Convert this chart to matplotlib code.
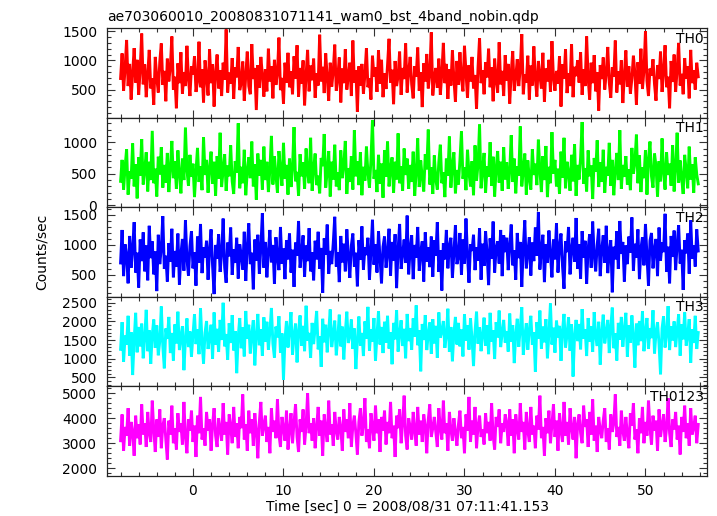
import numpy as np
import matplotlib
matplotlib.use("Agg")
import matplotlib.pyplot as plt
from matplotlib.ticker import MultipleLocator

plt.rcParams['font.family'] = ['DejaVu Sans']
plt.rcParams['path.simplify'] = False

title = "ae703060010_20080831071141_wam0_bst_4band_nobin.qdp"
xlabel = "Time [sec] 0 = 2008/08/31 07:11:41.153"
ylabel = "Counts/sec"
band_names = ["TH0", "TH1", "TH2", "TH3", "TH0123"]
band_colors = ["#ff0000", "#00ff00", "#0000ff", "#00ffff", "#ff00ff"]

t_start = -8.0
t_step = 1.0 / 6.0

th0 = [
 690, 1120, 480, 870, 1350, 560, 940, 330, 780, 1210, 620, 1010, 410, 850, 1460, 590,
 930, 370, 760, 1180, 520, 690, 240, 1060, 700, 450, 980, 1290, 580, 820, 300, 1030,
 640, 890, 1410, 500, 720, 180, 950, 610, 1140, 430, 800, 560, 1250, 680, 390, 900,
 760, 1070, 460, 640, 1320, 540, 850, 280, 1000, 720, 400, 1190, 610, 930, 210, 780,
 1100, 520, 830, 390, 960, 670, 1530, 450, 790, 600, 1040, 340, 880, 710, 1230, 490,
 620, 980, 310, 740, 1150, 560, 420, 1280, 680, 870, 150, 920, 530, 1060, 760, 380,
 850, 470, 1200, 640, 900, 350, 1010, 580, 780, 1390, 490, 700, 260, 960, 620, 1130,
 540, 810, 420, 1070, 690, 1260, 380, 870, 600, 1000, 230, 750, 1180, 470, 910, 660,
 1030, 360, 780, 570, 1440, 640, 890, 440, 1120, 710, 310, 960, 550, 820, 1270, 480,
 700, 1050, 280, 860, 610, 1190, 500, 740, 960, 390, 1340, 620, 830, 120, 900, 570,
 940, 430, 760, 1210, 540, 690, 330, 1080, 720, 880, 460, 1170, 600, 1010, 370, 780,
 510, 920, 1370, 620, 840, 250, 990, 560, 730, 1150, 410, 870, 680, 1290, 450, 810,
 1060, 590, 350, 900, 720, 1220, 480, 800, 200, 950, 640, 1110, 520, 760, 1480, 400,
 700, 870, 530, 1030, 410, 780, 1300, 610, 940, 340, 850, 570, 1170, 680, 290, 990,
 580, 1140, 690, 470, 1250, 800, 360, 920, 640, 1060, 520, 750, 170, 880, 1380, 610,
 830, 420, 970, 710, 1200, 540, 880, 300, 1030, 660, 450, 1310, 590, 820, 390, 1090,
 650, 940, 260, 790, 1160, 480, 710, 1020, 560, 870, 1450, 420, 760, 620, 1080, 330,
 910, 570, 1240, 680, 380, 990, 740, 520, 1130, 290, 860, 640, 1010, 460, 1330, 700,
 480, 820, 600, 1070, 210, 930, 690, 1190, 440, 780, 560, 1280, 370, 890, 730, 1000,
 620, 1140, 410, 850, 560, 1410, 700, 330, 960, 610, 1090, 470, 800, 140, 920, 680,
 1050, 500, 780, 1230, 620, 360, 880, 720, 1340, 450, 810, 590, 1000, 270, 740, 1170,
 550, 900, 430, 690, 1080, 780, 240, 970, 600, 1200, 510, 830, 1500, 650, 390, 860,
 740, 1020, 590, 310, 920, 680, 1150, 460, 810, 1260, 540, 720, 180, 990, 630, 1100,
 460, 850, 1300, 570, 770, 420, 1040, 690, 900, 350, 1180, 610, 830, 500, 960, 720,
]

th1 = [
 380, 720, 250, 610, 890, 170, 540, 420, 980, 300, 650, 110, 760, 470, 1050, 330,
 560, 840, 220, 690, 400, 1180, 350, 580, 140, 770, 490, 920, 280, 640, 360, 830,
 210, 590, 1020, 430, 700, 260, 870, 510, 190, 740, 400, 1230, 560, 310, 800, 450,
 660, 130, 540, 910, 370, 620, 240, 1080, 480, 720, 200, 590, 850, 340, 690, 150,
 780, 420, 1150, 290, 560, 810, 230, 630, 460, 950, 380, 180, 700, 520, 1300, 270,
 610, 350, 880, 160, 540, 760, 430, 1010, 300, 650, 90, 820, 470, 720, 250, 930,
 400, 690, 210, 570, 1100, 330, 780, 480, 200, 860, 550, 310, 990, 420, 640, 170,
 740, 290, 600, 1240, 380, 530, 150, 810, 460, 680, 260, 900, 510, 350, 1070, 230,
 580, 820, 320, 470, 190, 750, 620, 1130, 280, 540, 860, 140, 690, 410, 960, 300,
 520, 240, 870, 430, 650, 1020, 180, 590, 370, 780, 250, 1190, 460, 700, 320, 840,
 160, 610, 390, 930, 510, 280, 720, 1350, 420, 560, 210, 800, 340, 660, 120, 870,
 450, 1010, 300, 580, 760, 200, 690, 410, 1140, 350, 620, 230, 900, 480, 740, 260,
 640, 370, 850, 150, 530, 1060, 290, 710, 440, 220, 810, 570, 1200, 330, 600, 180,
 790, 410, 250, 680, 960, 350, 520, 130, 740, 470, 1090, 280, 630, 840, 190, 560,
 330, 720, 1170, 420, 600, 240, 880, 510, 300, 700, 160, 950, 390, 650, 1280, 270,
 550, 830, 200, 620, 450, 1000, 310, 770, 140, 580, 860, 360, 690, 230, 920, 410,
 680, 260, 540, 1110, 370, 740, 190, 620, 470, 1250, 300, 560, 820, 170, 710, 430,
 250, 890, 480, 660, 320, 1040, 560, 210, 780, 400, 940, 130, 610, 350, 1160, 500,
 720, 300, 580, 180, 850, 440, 1070, 270, 690, 520, 230, 800, 380, 970, 150, 640,
 410, 760, 1320, 340, 590, 220, 870, 460, 630, 100, 750, 530, 1030, 290, 680, 370,
 880, 200, 610, 470, 990, 310, 720, 160, 560, 830, 400, 1190, 260, 640, 450, 780,
 330, 570, 240, 910, 500, 680, 1120, 350, 790, 210, 600, 430, 870, 170, 730, 1010,
 460, 280, 820, 620, 140, 700, 380, 1060, 530, 250, 840, 480, 660, 310, 950, 220,
 590, 1150, 360, 710, 430, 180, 800, 550, 270, 930, 410, 650, 200, 760, 490, 340,
]

th2 = [
 700, 1250, 480, 1010, 830, 360, 1150, 620, 940, 1380, 540, 870, 290, 1090, 730, 1210,
 560, 990, 410, 1320, 780, 1060, 510, 890, 230, 1170, 680, 950, 1480, 600, 820, 390,
 1030, 720, 1270, 460, 900, 640, 1190, 340, 850, 1100, 570, 1410, 760, 490, 980, 1230,
 610, 880, 320, 1140, 700, 1350, 530, 960, 790, 1070, 420, 920, 1260, 650, 180, 1000,
 770, 1180, 550, 860, 1440, 630, 370, 1040, 810, 1290, 500, 930, 700, 1120, 440, 1010,
 830, 590, 1220, 400, 970, 1360, 680, 870, 260, 1090, 740, 1170, 520, 950, 1530, 620,
 1050, 460, 890, 1250, 710, 1000, 350, 1130, 800, 580, 1300, 690, 940, 430, 1080, 760,
 1190, 540, 920, 300, 1040, 820, 1400, 620, 870, 1160, 470, 990, 730, 1280, 560, 880,
 410, 1070, 760, 1220, 600, 950, 200, 1110, 840, 1340, 520, 900, 680, 1030, 1470, 640,
 880, 380, 1150, 710, 1020, 560, 1260, 820, 450, 990, 1190, 640, 870, 310, 1080, 750,
 1310, 590, 960, 830, 1120, 420, 890, 1420, 670, 1010, 540, 1230, 780, 360, 970, 1140,
 620, 860, 1270, 490, 1050, 740, 1180, 280, 920, 1350, 600, 850, 1090, 700, 1490, 510,
 940, 1160, 430, 1000, 790, 1300, 570, 880, 1060, 390, 1210, 720, 960, 630, 1140, 470,
 1080, 820, 1380, 550, 910, 240, 1030, 760, 1250, 610, 980, 1120, 450, 870, 1330, 680,
 800, 1200, 500, 1090, 690, 1440, 830, 370, 1010, 900, 1170, 580, 960, 740, 1280, 420,
 1020, 650, 1230, 860, 330, 1110, 770, 1390, 540, 940, 1060, 690, 1250, 480, 1160, 880,
 1120, 580, 990, 1340, 660, 910, 420, 1200, 780, 1050, 300, 960, 1410, 610, 870, 1130,
 490, 1040, 730, 1290, 820, 1550, 590, 930, 1170, 380, 1010, 700, 1240, 850, 460, 1090,
 760, 1360, 540, 980, 1190, 650, 270, 1060, 880, 1300, 510, 940, 1120, 720, 1450, 600,
 1010, 440, 1230, 790, 1070, 350, 940, 1180, 620, 1390, 830, 560, 1000, 1270, 480, 920,
 1160, 700, 1320, 530, 890, 1080, 210, 970, 760, 1230, 600, 1400, 850, 1050, 390, 990,
 680, 1140, 870, 1460, 570, 1020, 790, 1260, 430, 940, 1130, 660, 1350, 820, 320, 1070,
 1200, 610, 930, 1100, 480, 1290, 740, 1040, 880, 1520, 550, 970, 360, 1150, 800, 1240,
 580, 1010, 1330, 690, 920, 250, 1080, 860, 1190, 520, 1410, 770, 990, 640, 1260, 900,
]

th3 = [
 1250, 1980, 920, 1620, 1380, 2150, 1080, 1710, 560, 1490, 2230, 1170, 1850, 1330, 1940, 1010,
 1560, 2310, 1200, 1760, 860, 1640, 2050, 1290, 1890, 1090, 1470, 2400, 1340, 740, 1810, 1530,
 2120, 1150, 1690, 950, 1920, 1410, 2260, 1230, 1580, 1870, 690, 1520, 2080, 1310, 1730, 1050,
 1640, 2190, 1390, 1790, 1120, 2350, 1450, 870, 1700, 2010, 1260, 1560, 1910, 1000, 2240, 1370,
 1800, 1180, 2040, 1500, 2500, 1330, 1660, 970, 1950, 1420, 2170, 1220, 1740, 610, 1590, 2090,
 1280, 1840, 1060, 2280, 1530, 1910, 1140, 1670, 2030, 820, 1620, 2200, 1360, 1790, 1080, 2110,
 1460, 1990, 1240, 1730, 2360, 1400, 1030, 1860, 1570, 2140, 1160, 1680, 440, 1520, 2010, 1300,
 1770, 2250, 1110, 1620, 1940, 900, 1720, 2160, 1350, 1880, 1200, 2420, 1480, 1690, 1020, 1960,
 1390, 1830, 2280, 1250, 1600, 780, 2070, 1440, 1910, 1170, 1750, 2320, 1310, 1640, 2020, 1090,
 1550, 2180, 1330, 1860, 980, 1700, 2260, 1420, 1610, 2050, 1260, 1810, 720, 1490, 2130, 1350,
 1690, 1070, 2000, 1540, 2390, 1210, 1780, 1460, 2090, 940, 1630, 2270, 1380, 1850, 1150, 1990,
 1430, 2150, 1270, 1710, 850, 1960, 1520, 2300, 1190, 1670, 2030, 1340, 1800, 1010, 2200, 1470,
 1820, 1240, 2080, 1590, 2430, 1360, 1760, 660, 1930, 1500, 2170, 1230, 1650, 1970, 1130, 2060,
 1410, 1880, 1020, 2240, 1560, 1740, 2010, 1290, 1620, 2340, 1180, 1850, 930, 1700, 2120, 1380,
 1960, 1330, 1780, 1060, 2190, 1480, 1900, 1240, 2080, 1550, 800, 1720, 2260, 1400, 1840, 1200,
 1630, 2100, 1350, 1890, 1120, 2230, 1460, 1760, 990, 1980, 1570, 2290, 1310, 1690, 2040, 1430,
 1740, 1190, 2210, 1460, 1900, 880, 1650, 2070, 1320, 1820, 2380, 1100, 1590, 1950, 1240, 1780,
 2150, 1370, 1710, 650, 1980, 1530, 2290, 1270, 1860, 1440, 2060, 1010, 1690, 2480, 1380, 1830,
 1160, 2020, 1570, 1880, 940, 1760, 2200, 1300, 1640, 2110, 1210, 1920, 520, 1620, 2040, 1470,
 1930, 1250, 2330, 1540, 1790, 1070, 2090, 1450, 1870, 1180, 2250, 1600, 1340, 1990, 840, 1720,
 2180, 1410, 1700, 2040, 1150, 1850, 2370, 1280, 1680, 950, 1960, 1510, 2120, 1320, 1770, 2230,
 1050, 1890, 1430, 2160, 1600, 760, 1940, 1360, 2010, 1470, 2270, 1200, 1730, 2090, 1260, 1820,
 1550, 2300, 1140, 1700, 1980, 1390, 580, 1810, 2140, 1300, 1660, 2410, 1230, 1870, 1490, 2000,
 1310, 1760, 2190, 1080, 1920, 1520, 2240, 1350, 1640, 2060, 890, 1790, 1420, 2150, 1260, 1700,
]

th0123 = [
 3100, 4150, 2700, 3650, 3300, 4400, 2900, 3850, 3450, 2500, 4100, 3200, 3750, 2950, 4550, 3350,
 3800, 2850, 4250, 3400, 3050, 4700, 3550, 2650, 3950, 3250, 4350, 2800, 3700, 4000, 3150, 2350,
 3900, 3350, 4500, 3000, 3600, 2750, 4200, 3450, 3800, 2950, 4650, 3250, 2600, 3950, 3500, 4300,
 3050, 3700, 2450, 4100, 3400, 4850, 3150, 3600, 2900, 4250, 3500, 3950, 2700, 3750, 4400, 3300,
 2850, 4000, 3550, 3100, 4600, 3350, 3850, 2550, 4150, 3650, 3000, 4450, 3250, 3800, 2800, 4050,
 3600, 4950, 3150, 3750, 2700, 4300, 3400, 3950, 2900, 4200, 3500, 2400, 3850, 4650, 3300, 3700,
 4100, 3050, 3650, 2600, 4400, 3450, 3900, 3200, 4750, 3350, 2850, 4050, 3600, 3100, 4300, 2750,
 3550, 4200, 3000, 3850, 4550, 3250, 2650, 3950, 3450, 4350, 2950, 3700, 5000, 3400, 3800, 3100,
 4000, 2800, 3650, 4450, 3300, 3900, 2500, 4150, 3550, 3050, 4700, 3350, 3750, 2900, 4250, 3500,
 3150, 4050, 3600, 2700, 4350, 3450, 3950, 3200, 4600, 2850, 3700, 4100, 3400, 2550, 3850, 4400,
 3300, 3750, 4800, 3050, 3550, 2800, 4200, 3650, 3100, 4500, 3400, 3950, 2650, 4050, 3500, 4300,
 2950, 3850, 3400, 4650, 3200, 3700, 2450, 4100, 3600, 4350, 3000, 3800, 4900, 3300, 2750, 4000,
 3650, 3150, 4250, 3500, 2900, 4450, 3350, 3900, 3050, 4150, 3700, 2600, 3950, 4550, 3250, 3600,
 4050, 3450, 2850, 4400, 3600, 3150, 4700, 3400, 3800, 2700, 4250, 3550, 3100, 4000, 3450, 2900,
 3750, 4300, 3200, 3650, 2600, 4150, 3500, 4850, 3050, 3900, 3350, 4450, 2800, 3700, 4100, 3250,
 3550, 2950, 4200, 3400, 3850, 3100, 4600, 3300, 2750, 4050, 3650, 4350, 3000, 3800, 3450, 4150,
 3800, 2900, 4350, 3300, 3950, 2600, 4150, 3600, 3150, 4600, 3450, 3850, 2750, 4250, 3500, 3050,
 4450, 3350, 3700, 2800, 4100, 3550, 4900, 3200, 3650, 2500, 4000, 3400, 4300, 3000, 3750, 4550,
 3250, 3900, 2700, 4200, 3500, 3050, 4650, 3300, 3850, 2950, 4400, 3600, 3150, 4050, 2400, 3750,
 4150, 3400, 3000, 4500, 3650, 3950, 2850, 4250, 3350, 4750, 3100, 3700, 2650, 4050, 3550, 3200,
 3900, 4400, 3050, 3600, 2750, 4150, 3450, 3800, 4950, 3250, 3650, 2900, 4300, 3500, 3100, 4050,
 3350, 2800, 4200, 3700, 4600, 3150, 3550, 2600, 4000, 3400, 4450, 3000, 3850, 3300, 4700, 3600,
 2950, 4100, 3500, 3900, 2700, 4350, 3250, 3750, 4150, 3050, 3600, 4800, 3400, 2850, 3950, 3550,
 4250, 3150, 3700, 2550, 4050, 3450, 4500, 3200, 3800, 2900, 4400, 3350, 3650, 4100, 3000, 3750,
]

series = [th0, th1, th2, th3, th0123]
ylims = [(20, 1555), (-30, 1390), (135, 1630), (255, 2660), (1690, 5270)]
ymajor = [500, 500, 500, 500, 1000]
yminor = [100, 100, 100, 100, 200]

W, H = 717, 516
fig = plt.figure(figsize=(W / 100, H / 100), dpi=100)
left_px, right_px = 107, 707
top_px, bot_px = 28, 476
ph = (bot_px - top_px) / 5.0
FS = 10

axes = []
for i in range(5):
    y0 = top_px + i * ph
    ax = fig.add_axes([left_px / W, 1 - (y0 + ph) / H, (right_px - left_px) / W, ph / H])
    axes.append(ax)

for i, ax in enumerate(axes):
    y = np.asarray(series[i], dtype=float)
    t = t_start + t_step * np.arange(len(y))
    line, = ax.plot(t, y, color=band_colors[i], lw=2.1, solid_joinstyle='miter')
    line.set_snap(False)
    ax.set_xlim(-9.5, 56.8)
    ax.set_ylim(*ylims[i])
    ax.xaxis.set_major_locator(MultipleLocator(10))
    ax.xaxis.set_minor_locator(MultipleLocator(2))
    ax.yaxis.set_major_locator(MultipleLocator(ymajor[i]))
    ax.yaxis.set_minor_locator(MultipleLocator(yminor[i]))
    ax.tick_params(which='both', direction='in', top=True, right=True, labelsize=FS, width=0.8,
                   color='#333333')
    ax.tick_params(axis='y', which='major', pad=7)
    ax.tick_params(axis='x', which='major', pad=6)
    ax.tick_params(which='major', length=6)
    ax.tick_params(which='minor', length=3)
    for s in ax.spines.values():
        s.set_linewidth(0.9)
        s.set_color('#222222')
        s.set_zorder(3)
    if i < 4:
        ax.tick_params(labelbottom=False)
    ax.text(0.995, 0.96, band_names[i], transform=ax.transAxes, ha='right', va='top',
            fontsize=FS, zorder=4)

axes[0].set_title(title, loc='left', fontsize=FS, pad=5.5)
axes[4].set_xlabel(xlabel, fontsize=FS, labelpad=1)
fig.text(42 / W, 1 - 252 / H, ylabel, rotation=90, ha='center', va='center', fontsize=FS)

fig.savefig("out.png", dpi=100)
